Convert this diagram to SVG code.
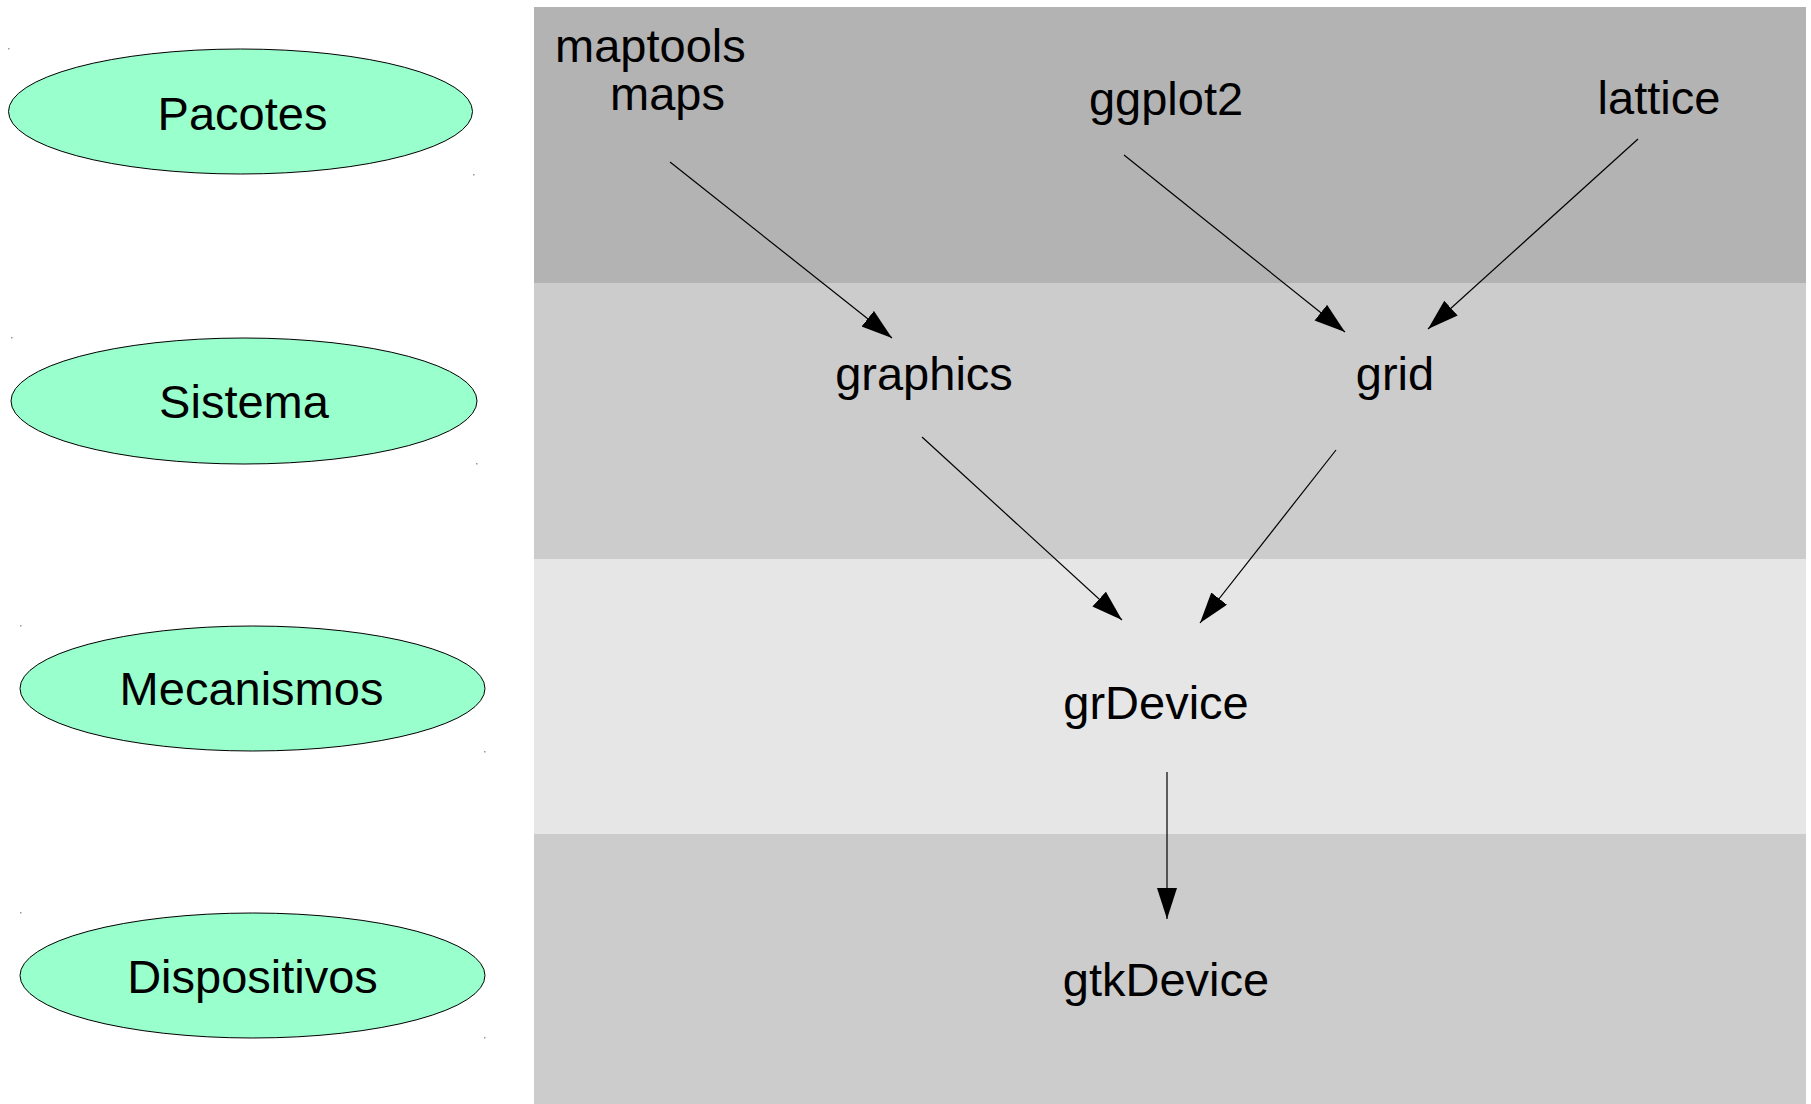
<svg xmlns="http://www.w3.org/2000/svg" width="1811" height="1104" viewBox="0 0 1811 1104">
<style>
.lbl{font-family:"Liberation Sans",Arial,sans-serif;font-size:47px;fill:#000}
.ell{fill:#99ffcc;stroke:#000;stroke-width:1}
.con{stroke:#000;stroke-width:1.2;fill:none;marker-end:url(#ah)}
.dot{fill:#999}
</style>
<defs>
<marker id="ah" markerUnits="userSpaceOnUse" markerWidth="32" markerHeight="22" refX="31" refY="10" orient="auto">
<path d="M0,0 L31,10 L0,20 Z" fill="#000"/>
</marker>
</defs>
<rect width="1811" height="1104" fill="#fff"/>
<g id="bands">
<rect x="534" y="7" width="1272" height="276" fill="#b3b3b3"/>
<rect x="534" y="283" width="1272" height="276" fill="#cccccc"/>
<rect x="534" y="559" width="1272" height="275" fill="#e6e6e6"/>
<rect x="534" y="834" width="1272" height="270" fill="#cccccc"/>
</g>
<g id="marks">
<rect class="dot" x="8" y="48" width="1.5" height="1.5"/>
<rect class="dot" x="473" y="174" width="1.5" height="1.5"/>
<rect class="dot" x="11" y="337" width="1.5" height="1.5"/>
<rect class="dot" x="476" y="463" width="1.5" height="1.5"/>
<rect class="dot" x="20" y="625" width="1.5" height="1.5"/>
<rect class="dot" x="484" y="751" width="1.5" height="1.5"/>
<rect class="dot" x="20" y="912" width="1.5" height="1.5"/>
<rect class="dot" x="484" y="1037" width="1.5" height="1.5"/>
</g>
<g id="pacotes"><ellipse class="ell" cx="240.5" cy="111.5" rx="232" ry="62.5"/><text class="lbl" x="242.5" y="130" text-anchor="middle">Pacotes</text></g>
<g id="sistema"><ellipse class="ell" cx="244" cy="401" rx="233" ry="63"/><text class="lbl" x="244" y="418" text-anchor="middle">Sistema</text></g>
<g id="mecanismos"><ellipse class="ell" cx="252.5" cy="688.5" rx="232.5" ry="62.5"/><text class="lbl" x="251.5" y="705" text-anchor="middle">Mecanismos</text></g>
<g id="dispositivos"><ellipse class="ell" cx="252.5" cy="975.5" rx="232.5" ry="62.5"/><text class="lbl" x="252.5" y="993" text-anchor="middle">Dispositivos</text></g>
<g id="maptools"><text class="lbl" x="555" y="62">maptools</text><text class="lbl" x="610" y="110">maps</text></g>
<g id="ggplot2"><text class="lbl" x="1166" y="115" text-anchor="middle">ggplot2</text></g>
<g id="lattice"><text class="lbl" x="1659" y="114" text-anchor="middle">lattice</text></g>
<g id="graphics"><text class="lbl" x="924" y="390" text-anchor="middle">graphics</text></g>
<g id="grid"><text class="lbl" x="1395" y="390" text-anchor="middle">grid</text></g>
<g id="grDevice"><text class="lbl" x="1156" y="719" text-anchor="middle">grDevice</text></g>
<g id="gtkDevice"><text class="lbl" x="1166" y="996" text-anchor="middle">gtkDevice</text></g>
<g id="connectors">
<line class="con" x1="670" y1="162" x2="892" y2="338"/>
<line class="con" x1="1124" y1="155" x2="1345" y2="332"/>
<line class="con" x1="1638" y1="139" x2="1428" y2="329"/>
<line class="con" x1="922" y1="437" x2="1122" y2="620"/>
<line class="con" x1="1336" y1="450" x2="1200" y2="623"/>
<line class="con" x1="1167" y1="772" x2="1167" y2="919"/>
</g>
</svg>
